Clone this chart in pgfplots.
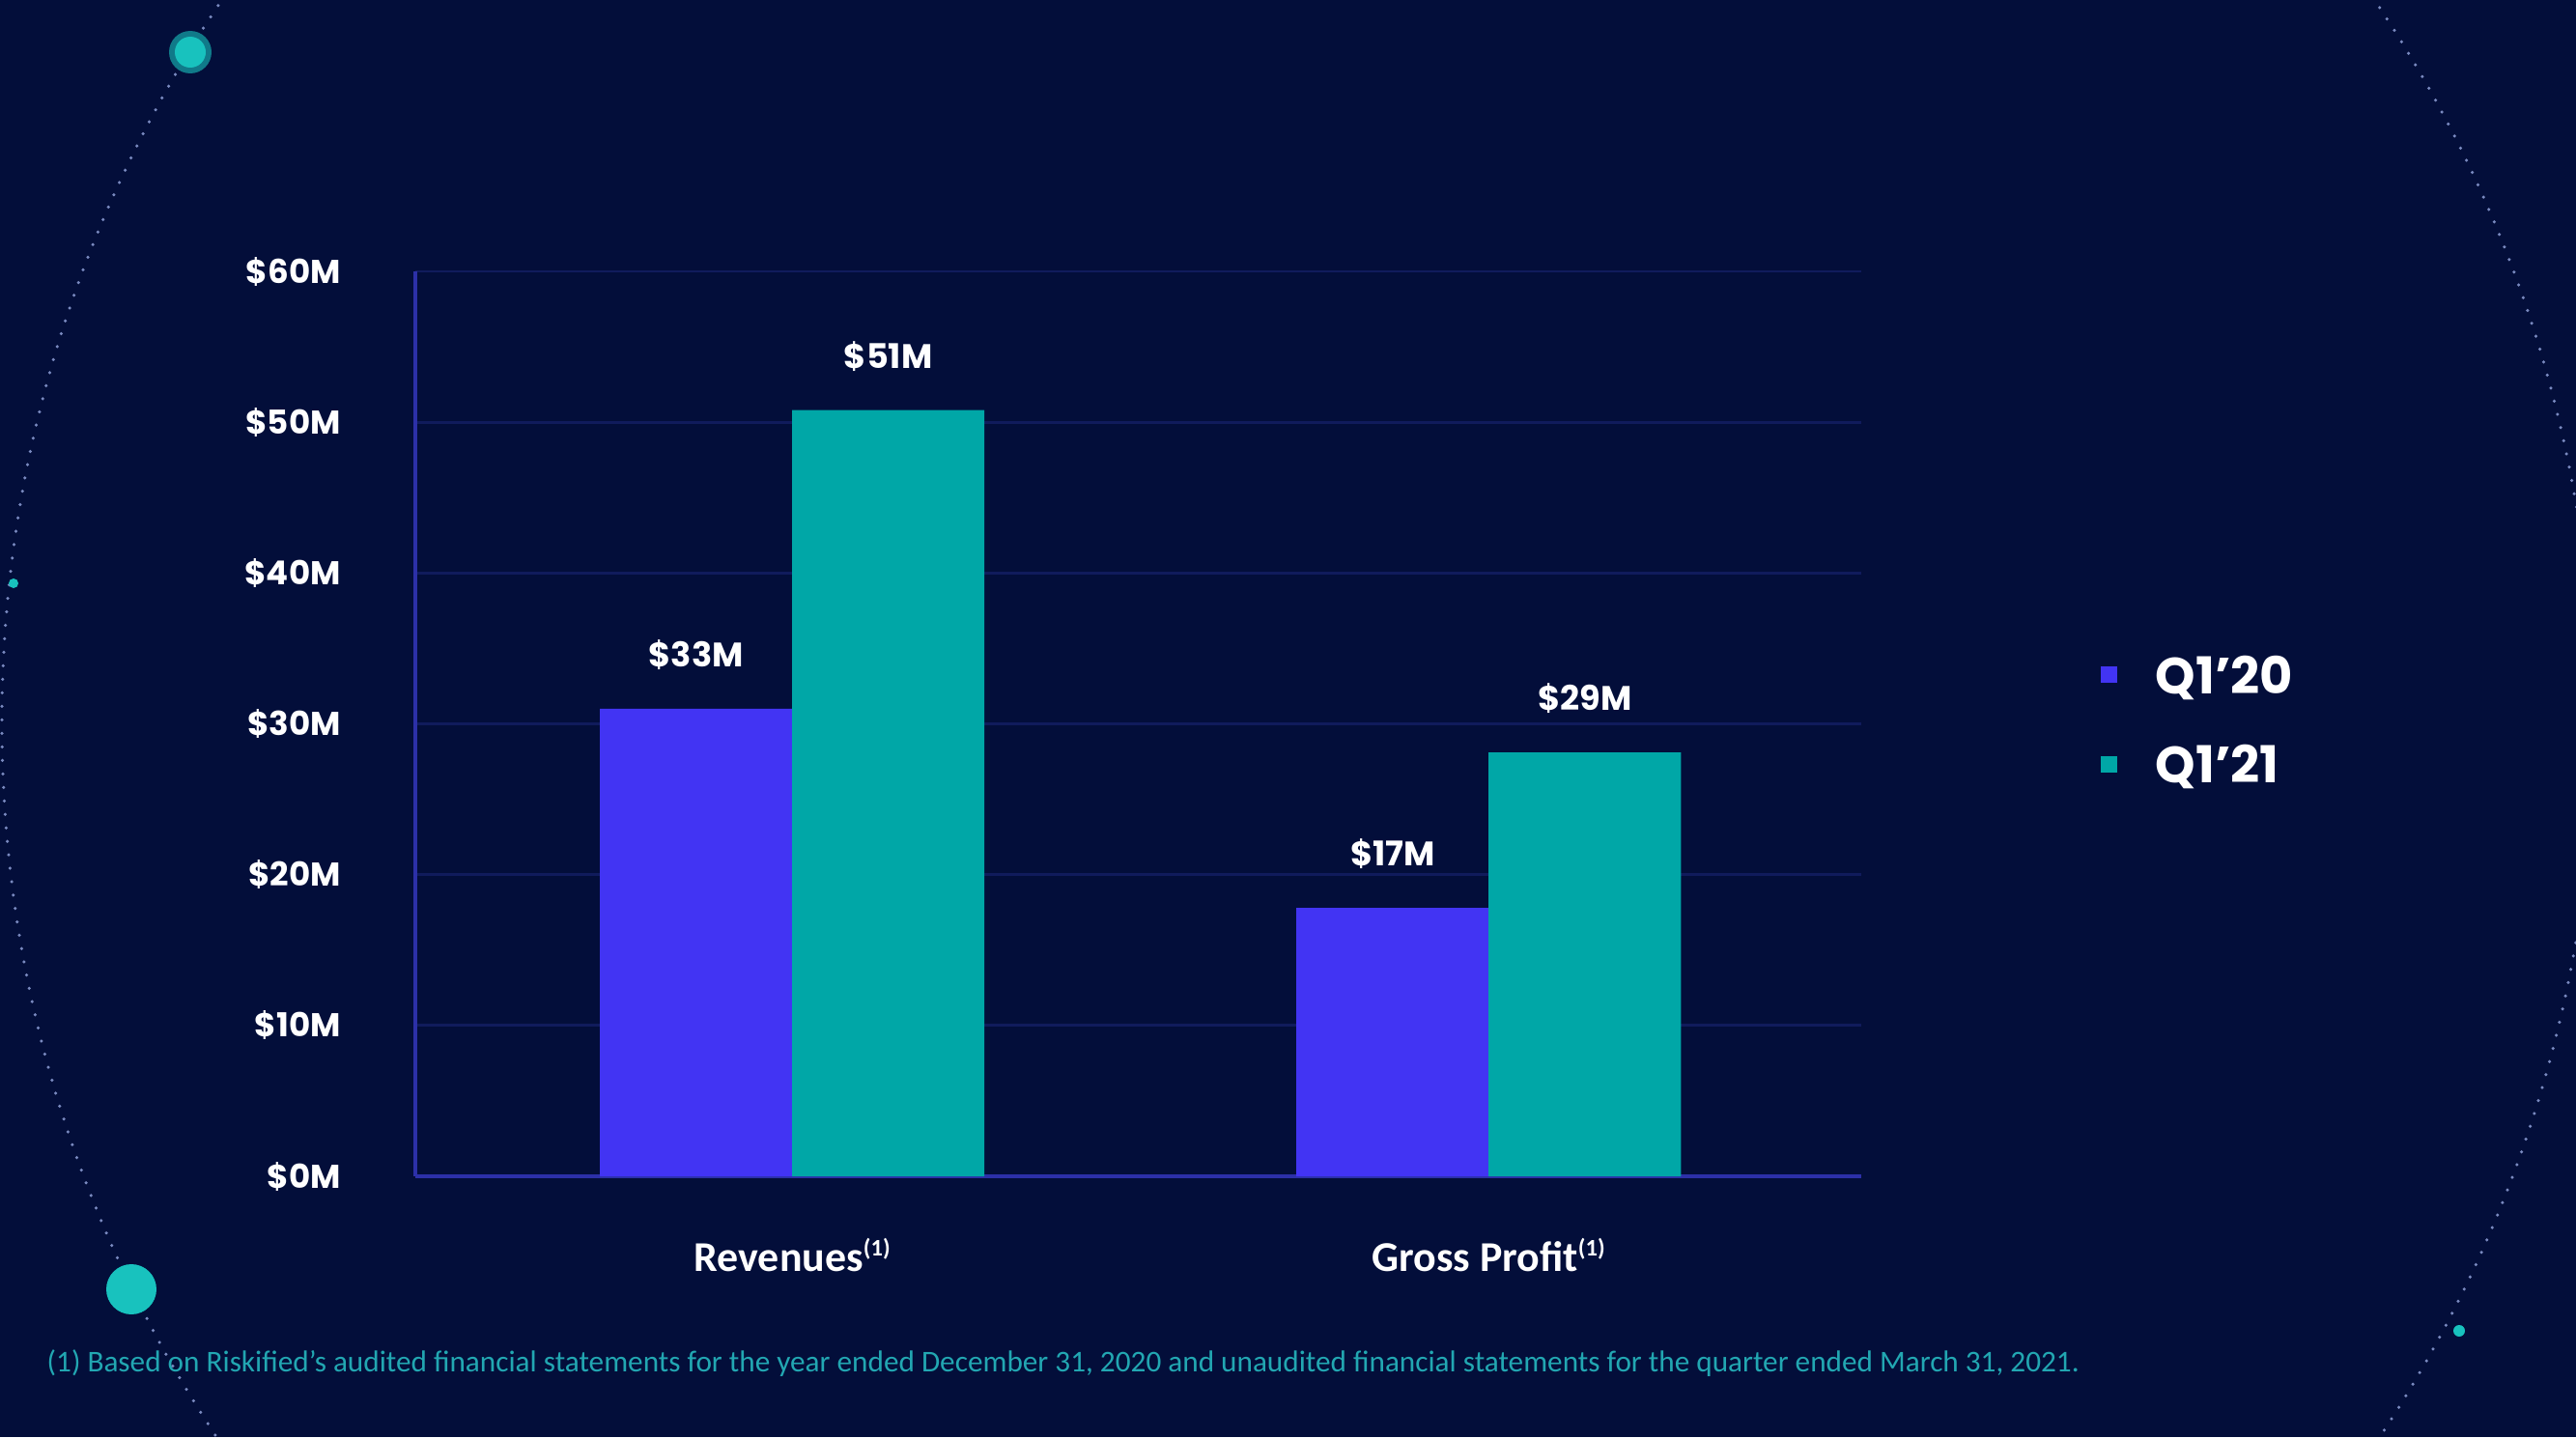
\documentclass[border=0pt]{standalone}
\usepackage{pgfplots}
\pgfplotsset{compat=1.18}
\usepackage{fontspec}
\setmainfont{Poppins}
\newfontfamily\carlito{Carlito}
\definecolor{bg}{HTML}{030E3A}
\definecolor{qa}{HTML}{4234F3}
\definecolor{qb}{HTML}{00A7A7}
\definecolor{gridc}{HTML}{101B5C}
\definecolor{axc}{HTML}{2C30A8}
\definecolor{foot}{HTML}{22A7B2}
\definecolor{orb}{HTML}{7A8AC0}
\definecolor{dotc}{HTML}{18C2BE}
\pgfplotsset{sqleg/.style={legend image code/.code={\fill[##1] (0cm,-0.06cm) rectangle (0.17cm,0.11cm); \path (0.5cm,0cm);}}}
\begin{document}
\begin{tikzpicture}
\path[use as bounding box, fill=bg] (0,0) rectangle (26.67,14.88);
\begin{scope}
\clip (0,0) rectangle (26.67,14.88);
\draw[orb, line width=0.035cm, line cap=round, dash pattern=on 0pt off 0.14cm] (13.44,7.40) circle (13.42);
\fill[dotc!60!bg] (1.97,14.34) circle (0.22);
\fill[dotc] (1.97,14.34) circle (0.16);
\fill[dotc] (0.14,8.84) circle (0.05);
\fill[dotc] (1.36,1.53) circle (0.26);
\fill[dotc] (25.46,1.10) circle (0.06);
\end{scope}
\begin{axis}[
  at={(4.30cm,2.70cm)}, anchor=south west,
  scale only axis, width=14.97cm, height=9.37cm,
  xmin=-0.541, xmax=1.535, ymin=0, ymax=60,
  axis x line=bottom, axis y line=left,
  axis line style={-, draw=axc, line width=1.2pt},
  ymajorgrids, major grid style={gridc, line width=0.8pt},
  tick style={draw=none}, major tick length=0pt,
  ytick={0,10,20,30,40,50,60},
  yticklabels={\$0M,\$10M,\$20M,\$30M,\$40M,\$50M,\$60M},
  yticklabel style={font=\bfseries\fontsize{9.7}{12}\selectfont, text=white, anchor=east, xshift=-0.65cm},
  xtick={0,1},
  xticklabels={Revenues\raisebox{0.75ex}{\fontsize{7}{8}\selectfont(1)}, Gross Profit\raisebox{0.75ex}{\fontsize{7}{8}\selectfont(1)}},
  xticklabel style={font=\carlito\bfseries\fontsize{12.5}{14}\selectfont, text=white, yshift=-0.52cm},
  ybar=0pt, bar width=0.276,
  nodes near coords, point meta=explicit symbolic,
  every node near coord/.append style={font=\bfseries\fontsize{10}{12}\selectfont, text=white, anchor=center, yshift=0.56cm},
  legend style={at={(1.158,0.591)}, anchor=north west, draw=none, fill=none, text=white,
    font=\bfseries\fontsize{15}{18}\selectfont, row sep=0.34cm},
  legend cell align=left,
]
\addplot[fill=qa, draw=none, sqleg]
  coordinates {(0,31.0) [\$33M] (1,17.8) [\$17M]};
\addplot[fill=qb, draw=none, sqleg]
  coordinates {(0,50.8) [\$51M] (1,28.1) [\$29M]};
\legend{Q1’20, Q1’21}
\end{axis}
\node[anchor=west, text=foot, inner sep=0pt] at (0.48,0.76) {\resizebox{21.04cm}{!}{\carlito (1) Based on Riskified’s audited financial statements for the year ended December 31, 2020 and unaudited financial statements for the quarter ended March 31, 2021.}};
\end{tikzpicture}
\end{document}
